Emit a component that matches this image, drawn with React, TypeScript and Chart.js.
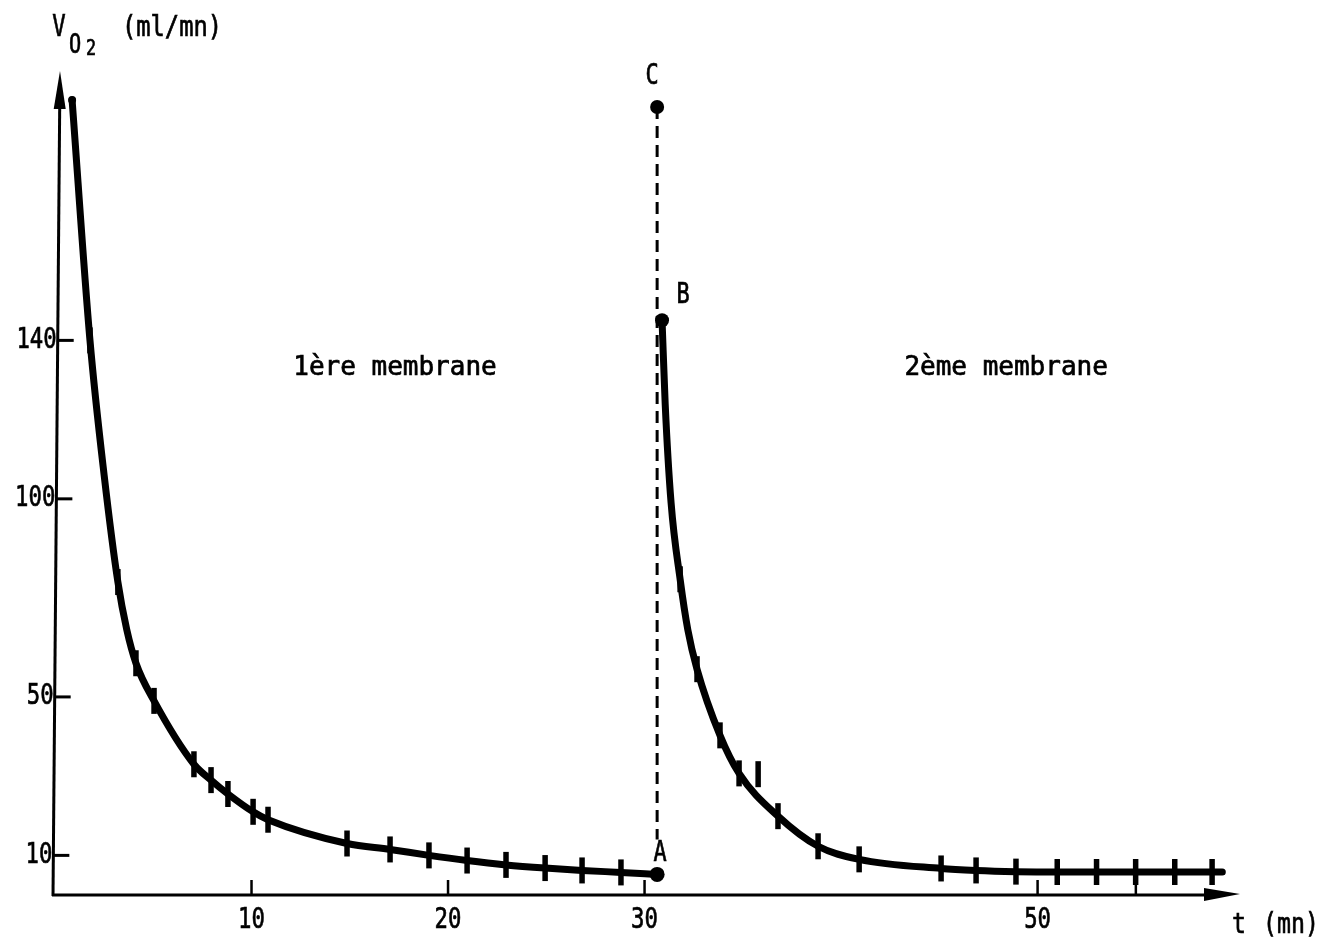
import React, { useEffect, useRef } from "react";
import { Chart, registerables } from "chart.js";

Chart.register(...registerables);

// ---- data (t in mn, VO2 in ml/mn) ----
const CURVE1_T = [0.87, 1.78, 2.5, 3.2, 3.65, 4.12, 5.04, 7.07, 7.94, 8.8, 10.08, 10.84, 14.86, 17.05, 19.03, 20.97, 22.95, 24.94, 26.82, 28.8, 30.64];
const CURVE1_V = [200.7, 140, 106, 79, 67, 58.5, 49, 33, 29, 25.5, 21, 19, 13, 11.5, 10, 8.7, 7.6, 6.8, 6.2, 5.7, 5.2];

const MARKS1_T = [1.78, 3.2, 4.12, 5.04, 7.07, 7.94, 8.8, 10.08, 10.84, 14.86, 17.05, 19.03, 20.97, 22.95, 24.94, 26.82, 28.8];
const MARKS1_V = [140, 79, 58.5, 49, 33, 29, 25.5, 21, 19, 13, 11.5, 10, 8.7, 7.6, 6.8, 6.2, 5.7];

const CURVE2_T = [30.89, 31.05, 31.35, 31.81, 32.2, 32.67, 33.84, 34.81, 36.79, 38.83, 40.92, 45.09, 46.87, 48.9, 51.0, 53.0, 54.99, 56.98, 58.88, 59.4];
const CURVE2_V = [145.1, 124, 99, 79.7, 67, 57, 40.3, 30.7, 19.9, 12.3, 9.0, 6.7, 6.2, 5.9, 5.8, 5.8, 5.8, 5.8, 5.8, 5.8];

const MARKS2_T = [31.81, 32.67, 33.84, 34.81, 35.78, 36.79, 38.83, 40.92, 45.09, 46.87, 48.9, 51.0, 53.0, 54.99, 56.98, 58.88];
const MARKS2_V = [79.7, 57, 40.3, 30.7, 30.5, 19.9, 12.3, 9.0, 6.7, 6.2, 5.9, 5.8, 5.8, 5.8, 5.8, 5.8];

const START_T = [0.87];
const START_V = [200.7];

const POINT_NAMES = ["C", "B", "A"];
const POINT_T = [30.64, 30.89, 30.64];
const POINT_V = [198.9, 145.1, 5.2];
const POINT_R = [7, 7, 7.5];

const DASH_T = [30.64, 30.64];
const DASH_V = [198.9, 14];

const X_TICKS = [10, 20, 30, 50, 55];
const X_TICK_LABELS = ["10", "20", "30", "50", ""];
const Y_TICKS = [10, 50, 100, 140];

const X_MAX = 60.3;
const Y_MAX = 208;

const LABEL_1 = "1ère membrane";
const LABEL_2 = "2ème membrane";
const LABEL_1_POS = [17.3, 133];
const LABEL_2_POS = [48.4, 133];

const FONT = '"DejaVu Sans Mono", "Liberation Mono", monospace';

const zip = (xs: number[], ys: number[]) => xs.map((x, i) => ({ x, y: ys[i] }));

function drawText(
  ctx: CanvasRenderingContext2D,
  text: string,
  x: number,
  y: number,
  align: CanvasTextAlign,
  size: number,
  sx = 1
) {
  ctx.save();
  ctx.translate(x, y);
  ctx.scale(sx, 1);
  ctx.font = `${size}px ${FONT}`;
  ctx.textAlign = align;
  ctx.textBaseline = "middle";
  ctx.fillStyle = "#000";
  ctx.strokeStyle = "#000";
  ctx.lineWidth = 0.7;
  ctx.fillText(text, 0, 0);
  ctx.strokeText(text, 0, 0);
  ctx.restore();
}

const decorPlugin = {
  id: "decor",
  beforeDatasetsDraw(chart: any) {
    const { ctx, chartArea } = chart;
    const { left, right, top, bottom } = chartArea;
    const xs = chart.scales.x;
    const ys = chart.scales.y;
    const axX = (py: number) => left - 2 + ((bottom - py) / (bottom - top)) * 7;
    ctx.save();
    ctx.strokeStyle = "#000";
    ctx.fillStyle = "#000";
    ctx.lineCap = "butt";
    ctx.lineWidth = 3;
    // y axis
    ctx.beginPath();
    ctx.moveTo(axX(bottom), bottom + 1);
    ctx.lineTo(axX(top + 30), top + 30);
    ctx.stroke();
    ctx.beginPath();
    ctx.moveTo(axX(top), top);
    ctx.lineTo(axX(top + 36) - 6, top + 38);
    ctx.lineTo(axX(top + 36) + 6, top + 38);
    ctx.closePath();
    ctx.fill();
    // x axis
    ctx.beginPath();
    ctx.moveTo(axX(bottom) - 1, bottom);
    ctx.lineTo(right - 20, bottom);
    ctx.stroke();
    ctx.beginPath();
    ctx.moveTo(right, bottom - 1);
    ctx.lineTo(right - 36, bottom - 7);
    ctx.lineTo(right - 36, bottom + 6);
    ctx.closePath();
    ctx.fill();
    // y ticks
    Y_TICKS.forEach((v) => {
      const py = ys.getPixelForValue(v);
      const ax = axX(py);
      ctx.lineWidth = 3;
      ctx.beginPath();
      ctx.moveTo(ax, py);
      ctx.lineTo(ax + 16, py);
      ctx.stroke();
      drawText(ctx, String(v), ax - 1, py, "right", 29, 0.77);
    });
    // x ticks
    X_TICKS.forEach((t, i) => {
      const px = xs.getPixelForValue(t);
      ctx.lineWidth = 2.5;
      ctx.beginPath();
      ctx.moveTo(px, bottom);
      ctx.lineTo(px, bottom - 15);
      ctx.stroke();
      if (X_TICK_LABELS[i]) drawText(ctx, X_TICK_LABELS[i], px, bottom + 25, "center", 29, 0.77);
    });
    ctx.restore();
  },
  afterDatasetsDraw(chart: any) {
    const { ctx, chartArea } = chart;
    const { left, right, top, bottom } = chartArea;
    const xs = chart.scales.x;
    const ys = chart.scales.y;
    // axis titles
    drawText(ctx, "V", left + 4, top - 43, "center", 31, 0.72);
    drawText(ctx, "O", left + 20, top - 25, "center", 27, 0.75);
    drawText(ctx, "2", left + 36, top - 21, "center", 21, 0.8);
    drawText(ctx, "(ml/mn)", left + 117, top - 43, "center", 29, 0.82);
    drawText(ctx, "t", right - 1, bottom + 30, "center", 29, 0.8);
    drawText(ctx, "(mn)", right + 51, bottom + 30, "center", 29, 0.8);
    // region labels
    drawText(ctx, LABEL_1, xs.getPixelForValue(LABEL_1_POS[0]), ys.getPixelForValue(LABEL_1_POS[1]), "center", 26, 1);
    drawText(ctx, LABEL_2, xs.getPixelForValue(LABEL_2_POS[0]), ys.getPixelForValue(LABEL_2_POS[1]), "center", 26, 1);
    // point letters
    const offs: Record<string, [number, number]> = { C: [-5, -30], B: [21, -24], A: [3, -21] };
    POINT_NAMES.forEach((n, i) => {
      const px = xs.getPixelForValue(POINT_T[i]);
      const py = ys.getPixelForValue(POINT_V[i]);
      drawText(ctx, n, px + offs[n][0], py + offs[n][1], "center", 28, 0.78);
    });
  },
};

export default function App() {
  const ref = useRef<HTMLCanvasElement | null>(null);
  useEffect(() => {
    if (!ref.current) return;
    const lineCommon = {
      borderColor: "#000",
      borderWidth: 7,
      pointRadius: 0,
      showLine: true,
      fill: false,
      cubicInterpolationMode: "monotone" as const,
      borderCapStyle: "round" as const,
      borderJoinStyle: "round" as const,
    };
    const markCommon = {
      showLine: false,
      pointStyle: "line" as const,
      rotation: 90,
      pointRadius: 13,
      pointBorderWidth: 5.5,
      borderColor: "#000",
      backgroundColor: "#000",
    };
    const chart = new Chart(ref.current, {
      type: "scatter",
      data: {
        datasets: [
          { ...lineCommon, label: "1ère membrane", data: zip(CURVE1_T, CURVE1_V) },
          { ...lineCommon, label: "2ème membrane", data: zip(CURVE2_T, CURVE2_V) },
          { ...markCommon, label: "mesures 1", data: zip(MARKS1_T, MARKS1_V) },
          { ...markCommon, label: "mesures 2", data: zip(MARKS2_T, MARKS2_V) },
          {
            label: "C-A",
            data: zip(DASH_T, DASH_V),
            showLine: true,
            borderColor: "#000",
            borderWidth: 3,
            borderDash: [12, 7],
            pointRadius: 0,
          },
          {
            label: "départ",
            data: zip(START_T, START_V),
            pointRadius: 4,
            pointStyle: "circle",
            backgroundColor: "#000",
            borderColor: "#000",
            borderWidth: 0,
          },
          {
            label: "points",
            data: zip(POINT_T, POINT_V),
            pointRadius: POINT_R,
            pointStyle: "circle",
            backgroundColor: "#000",
            borderColor: "#000",
            borderWidth: 0,
          },
        ],
      },
      options: {
        responsive: false,
        animation: false,
        events: [],
        layout: { padding: { left: 55, right: 89, top: 71, bottom: 50 } },
        plugins: { legend: { display: false }, tooltip: { enabled: false } },
        scales: {
          x: { type: "linear", min: 0, max: X_MAX, display: false },
          y: { type: "linear", min: 0, max: Y_MAX, display: false },
        },
      },
      plugins: [decorPlugin],
    } as any);
    return () => chart.destroy();
  }, []);
  return (
    <div style={{ position: "absolute", left: 0, top: 0, width: 1329, height: 945, background: "#fff" }}>
      <canvas ref={ref} width={1329} height={945} style={{ display: "block" }} />
    </div>
  );
}
